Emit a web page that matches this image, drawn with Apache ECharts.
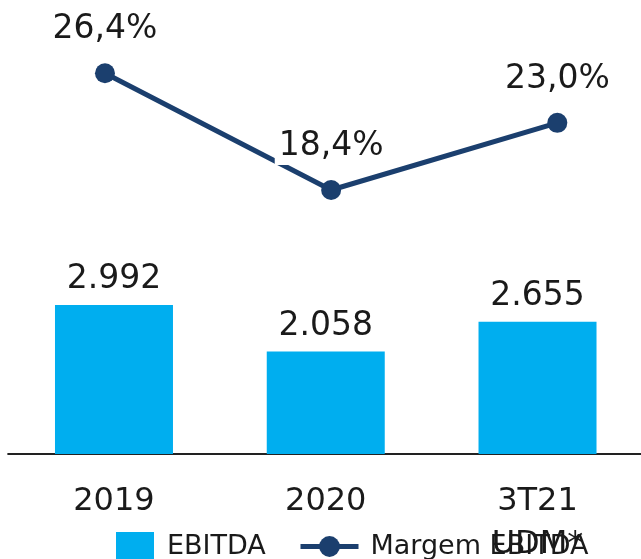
<!DOCTYPE html>
<html lang="pt">
<head>
    <meta charset="UTF-8">
    <title>EBITDA e Margem EBITDA</title>
    <style>
        html, body { margin: 0; padding: 0; background: #fff; }
        #chart { width: 641px; height: 559px; }
    </style>
</head>
<body>
    <div id="chart"></div>
    <script src="https://cdn.jsdelivr.net/npm/echarts@6/dist/echarts.min.js"></script>
    <script>
        // dados
        const categories = ['2019', '2020', '3T21\nUDM*'];
        const ebitda = [2992, 2058, 2655];
        const margem = [26.4, 18.4, 23.0];

        const FONT = 'DejaVu Sans';
        const TXT = '#1a1a1a';
        const AZUL = '#00AEEF';
        const MARINHO = '#1B3F6E';

        function milhar(v) {
            return String(v).replace(/\B(?=(\d{3})+(?!\d))/g, '.');
        }

        const chart = echarts.init(document.getElementById('chart'));
        const option = {
            animation: false,
            grid: [
                // barras
                { left: 8.1, width: 635.3, top: 55.6, bottom: 105, outerBoundsMode: 'none', containLabel: false },
                // linha
                { left: -8.1, width: 678.5, top: 55.6, bottom: 100.5, outerBoundsMode: 'none', containLabel: false }
            ],
            legend: [{
                data: ['EBITDA'],
                left: 116,
                top: 532,
                padding: 0,
                icon: 'rect',
                itemWidth: 38,
                itemHeight: 30,
                textStyle: { fontFamily: FONT, fontSize: 27, color: TXT, padding: [0, 0, 0, 8] }
            }, {
                data: ['Margem EBITDA'],
                left: 298,
                top: 533,
                padding: 0,
                itemWidth: 58,
                itemHeight: 26,
                lineStyle: { width: 5 },
                textStyle: { fontFamily: FONT, fontSize: 27, color: TXT, padding: [0, 0, 0, 7] }
            }],
            xAxis: [{
                type: 'category',
                gridIndex: 0,
                data: categories,
                axisTick: { show: false },
                axisLine: { lineStyle: { color: '#222', width: 2 } },
                axisLabel: {
                    fontFamily: FONT,
                    fontSize: 32,
                    color: TXT,
                    lineHeight: 43,
                    margin: 26
                }
            }, {
                type: 'category',
                gridIndex: 1,
                data: categories,
                show: false
            }],
            yAxis: [{
                type: 'value',
                gridIndex: 0,
                min: 0,
                max: 8000,
                show: false
            }, {
                type: 'value',
                gridIndex: 1,
                min: 0,
                max: 27.61,
                show: false
            }],
            series: [{
                name: 'EBITDA',
                type: 'bar',
                xAxisIndex: 0,
                yAxisIndex: 0,
                barWidth: 118,
                itemStyle: { color: AZUL },
                label: {
                    show: true,
                    position: 'top',
                    distance: 9,
                    fontFamily: FONT,
                    fontSize: 33,
                    color: TXT,
                    formatter: p => milhar(p.value)
                },
                data: ebitda
            }, {
                name: 'Margem EBITDA',
                type: 'line',
                xAxisIndex: 1,
                yAxisIndex: 1,
                symbol: 'circle',
                symbolSize: 20,
                lineStyle: { color: MARINHO, width: 5 },
                itemStyle: { color: MARINHO },
                label: {
                    show: true,
                    position: 'top',
                    distance: 15,
                    fontFamily: FONT,
                    fontSize: 33,
                    color: TXT,
                    backgroundColor: '#fff',
                    padding: [2, 4],
                    formatter: p => p.value.toFixed(1).replace('.', ',') + '%'
                },
                data: margem
            }]
        };
        chart.setOption(option);
    </script>
</body>
</html>
